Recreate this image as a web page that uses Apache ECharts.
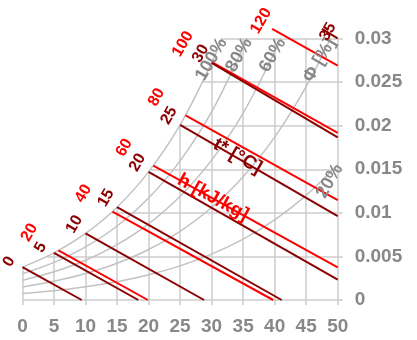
<!DOCTYPE html>
<html><head><meta charset="utf-8">
<script src="https://cdn.jsdelivr.net/npm/echarts@6/dist/echarts.min.js"></script>
<style>html,body{margin:0;padding:0;background:#fff}#c{width:417px;height:340px}</style>
</head><body><div id="c"></div>
<script>
// ---- data ----
const xTicks = [0, 5, 10, 15, 20, 25, 30, 35, 40, 45, 50];
const yLevels = [0, 0.005, 0.01, 0.015, 0.02, 0.025, 0.03];
// top of each vertical grid line (saturation humidity, capped at 0.03)
const gridXTop = [0.003775, 0.005403, 0.007632, 0.01065, 0.014699, 0.020087, 0.027212, 0.03, 0.03, 0.03, 0.03];
// left start of each horizontal grid line (saturation temperature)
const gridYStart = [0, 3.9, 14.0, 20.3, 24.9, 28.6, 31.65];

const rhNames = ['100%', '80%', '60%', 'Φ [%]', '20%'];
const rh100 = [[0,0.003775],[5,0.005403],[10,0.007632],[15,0.01065],[20,0.014699],[25,0.020087],[30,0.027212],[31.65,0.03]];
const rh80  = [[0,0.003016],[5,0.004315],[10,0.006091],[15,0.008491],[20,0.011704],[25,0.015967],[30,0.02158],[35,0.028929],[35.65,0.03]];
const rh60  = [[0,0.002259],[5,0.003231],[10,0.004557],[15,0.006347],[20,0.008737],[25,0.011899],[30,0.016046],[35,0.021448],[40,0.028444],[40.95,0.03]];
const rh40  = [[0,0.001504],[5,0.00215],[10,0.003031],[15,0.004217],[20,0.005797],[25,0.007882],[30,0.010606],[35,0.014136],[40,0.018678],[45,0.024488],[48.85,0.03]];
const rh20  = [[0,0.000751],[5,0.001073],[10,0.001512],[15,0.002101],[20,0.002885],[25,0.003916],[30,0.005258],[35,0.006989],[40,0.009201],[45,0.012008],[50,0.015544]];

// enthalpy lines h [kJ/kg]
const hValues = [20, 40, 60, 80, 100, 120];
const hStart = [[5.7,0.00568],[14.27,0.01015],[20.75,0.01541],[25.86,0.02118],[30.05,0.0273],[39.6,0.0311]];
const hEnd   = [[19.88,0],[39.76,0],[50,0.00374],[50,0.01145],[50,0.01916],[50,0.0269]];

// wet-bulb lines t* [°C]
const tValues = [0, 5, 10, 15, 20, 25, 30, 35];
const tStart = [[0,0.003775],[5,0.005403],[10,0.007632],[15,0.01065],[20,0.014699],[25,0.020087],[30,0.027212],[47.5,0.0311]];
const tEnd   = [[9.39,0],[18.37,0],[28.8,0],[41.11,0],[50,0.00235],[50,0.00961],[50,0.01865],[50,0.03001]];

// ---- styles ----
const FONT = '"Liberation Sans", Arial, sans-serif';
const GRID_C = '#cccccc', CURVE_C = '#c2c2c2', TXT_GRAY = '#888888', RED = '#ff0000', DARK = '#8b0000';

const rhCurves = [rh100, rh80, rh60, rh40, rh20];
const gridSegs = [];
xTicks.forEach((x, i) => gridSegs.push({coords: [[x, 0], [x, gridXTop[i]]]}));
yLevels.forEach((y, i) => gridSegs.push({coords: [[gridYStart[i], y], [50, y]]}));

const labels = [];
rhCurves.forEach((c, i) => labels.push({pt: c[c.length - 1], text: rhNames[i], color: TXT_GRAY, dx: 1, dy: 1, align: 'right', rot: 60, size: 18}));
hValues.forEach((v, i) => {
  const last = i === hValues.length - 1;
  labels.push({pt: hStart[i], text: String(v), color: RED, dx: last ? -11 : -29, dy: last ? -8 : -18, align: 'center', rot: 60, size: 16});
});
tValues.forEach((v, i) => {
  const last = i === tValues.length - 1;
  labels.push({pt: tStart[i], text: String(v), color: DARK, dx: last ? 6 : -15.5, dy: last ? 3 : -1.5, align: last ? 'center' : 'left', rot: 60, size: 16});
});
function along(a, b, f) { return [a[0] + (b[0] - a[0]) * f, a[1] + (b[1] - a[1]) * f]; }
labels.push({pt: along(tStart[5], tEnd[5], 0.364), text: 't* [°C]', color: DARK, dx: 0, dy: -2, align: 'center', dir: [tStart[5], tEnd[5]], size: 19});
labels.push({pt: along(hStart[2], hEnd[2], 0.323), text: 'h [kJ/kg]', color: RED, dx: 0, dy: -1, align: 'center', dir: [hStart[2], hEnd[2]], size: 19});

const chart = echarts.init(document.getElementById('c'));
const axisLabel = {color: TXT_GRAY, fontWeight: 'bold', fontSize: 19, fontFamily: FONT, margin: 17};
const series = [
  {type: 'lines', coordinateSystem: 'cartesian2d', z: 1, silent: true, clip: false,
   lineStyle: {color: GRID_C, width: 1.5, opacity: 1}, data: gridSegs},
];
rhCurves.forEach(c => series.push({type: 'line', data: c, smooth: 0.35, showSymbol: false, z: 2, silent: true,
  lineStyle: {color: CURVE_C, width: 1.5}}));
series.push({type: 'lines', coordinateSystem: 'cartesian2d', z: 3, silent: true, clip: false,
  lineStyle: {color: RED, width: 2, opacity: 1}, data: hStart.map((s, i) => ({coords: [s, hEnd[i]]}))});
series.push({type: 'lines', coordinateSystem: 'cartesian2d', z: 3, silent: true, clip: false,
  lineStyle: {color: DARK, width: 2, opacity: 1}, data: tStart.map((s, i) => ({coords: [s, tEnd[i]]}))});
series.push({type: 'custom', z: 5, silent: true, clip: false, data: labels.map(l => l.pt),
  renderItem: function (params, api) {
    const L = labels[params.dataIndex];
    const p = api.coord([api.value(0), api.value(1)]);
    let rot = (L.rot || 0) * Math.PI / 180;
    if (L.dir) {
      const a = api.coord(L.dir[0]), b = api.coord(L.dir[1]);
      rot = -Math.atan2(b[1] - a[1], b[0] - a[0]);
    }
    return {type: 'text', x: p[0] + L.dx, y: p[1] + L.dy, rotation: rot,
      style: {text: L.text, fill: L.color, font: 'bold ' + L.size + 'px ' + FONT, align: L.align, verticalAlign: 'middle'}};
  }});

chart.setOption({
  animation: false,
  backgroundColor: '#fff',
  grid: {left: 22.5, right: 79.3, top: 38.5, bottom: 40},
  xAxis: {type: 'value', min: 0, max: 50, interval: 5,
    axisLine: {show: false, onZero: false}, axisTick: {show: true, length: 5, lineStyle: {color: GRID_C, width: 1.5}},
    splitLine: {show: false}, axisLabel: axisLabel},
  yAxis: {type: 'value', position: 'right', min: 0, max: 0.03, interval: 0.005,
    axisLine: {show: false, onZero: false}, axisTick: {show: true, length: 5, lineStyle: {color: GRID_C, width: 1.5}},
    splitLine: {show: false}, axisLabel: axisLabel},
  series: series
});
</script></body></html>
